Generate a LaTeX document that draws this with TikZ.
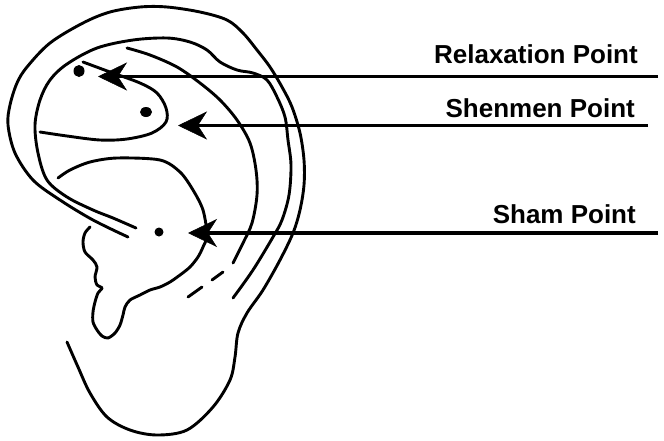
\documentclass[tikz,border=0pt]{standalone}
\usepackage{fontspec}
\setmainfont{Liberation Sans}
\usetikzlibrary{arrows.meta,shapes.geometric}
\begin{document}
\begin{tikzpicture}[x=1pt,y=-1pt,
  earline/.style={line width=2.9pt, line cap=round, line join=round},
  pointer/.style={line width=3.6pt, -{Stealth[length=29pt,width=28pt,inset=9pt,line width=0.5pt]}},
  lbl/.style={font=\fontsize{26}{31}\selectfont\bfseries, inner sep=0pt, anchor=base east},
  acudot/.style={fill=black, draw=none, ellipse, inner sep=0pt}]
\useasboundingbox (0,0) rectangle (664,440);
\fill[white] (0,0) rectangle (664,440);

% outer helix and lobe
\draw[earline] plot[smooth, tension=0.55] coordinates {(128,237) (93,220) (60,200) (33,180) (15,153) (8,125) (10,105) (17,83) (27,67) (50,43) (83,23) (110,12) (140,7) (167,7) (200,12) (227,20) (243,33) (257,50) (270,67) (282,87) (292,107) (300,133) (304,160) (304,185) (300,210) (293,233) (280,260) (263,290) (247,313) (238,333) (235,357) (230,380) (213,407) (187,430) (157,435) (130,430) (107,417) (90,393) (78,367) (67,342)};

% inner helix
\draw[earline] plot[smooth, tension=0.55] coordinates {(136,228) (113,218) (93,210) (67,197) (47,180) (38,153) (35,125) (40,100) (50,80) (67,64) (97,48) (133,40) (167,38) (190,42) (207,50) (220,62) (237,70) (253,73) (267,80) (277,97) (285,117) (288,140) (291,165) (289,195) (282,220) (273,237) (253,270) (233,298)};

% antihelix line
\draw[earline] plot[smooth, tension=0.55] coordinates {(127,48) (150,55) (177,67) (200,83) (220,100) (237,120) (250,143) (256,170) (257,195) (252,223) (243,243) (233,263)};

% triangular fossa
\draw[earline] plot[smooth, tension=0.55] coordinates {(83,62) (110,72) (140,83) (157,93) (166,108) (166,122) (152,133) (127,139) (100,140) (67,136) (40,132)};

% concha, tragus
\draw[earline] plot[smooth, tension=0.5] coordinates {(58,178) (70,170) (90,162) (117,158) (160,160) (180,172) (193,190) (203,210) (207,235) (203,247) (198,257) (190,267) (180,275) (170,282) (160,287) (150,290) (140,295) (130,300) (125,307) (123,315) (120,325) (115,333) (108,338) (102,336) (97,330) (93,322) (93,312) (95,302) (98,293) (102,288) (97,285) (95,277) (97,267) (93,260) (85,252) (83,242) (85,233) (90,227)};

% dashes
\draw[earline] (223,272) -- (212,280);
\draw[earline] (202,287) -- (188,297);

% points
\node[acudot, minimum width=11pt, minimum height=12pt] (relaxdot) at (79,71) {};
\node[acudot, minimum width=12pt, minimum height=10pt] (shendot) at (146,112) {};
\node[acudot, minimum width=9pt, minimum height=9pt] (shamdot) at (159,232) {};

% labels
\node[lbl] (relax) at (638,63) {Relaxation Point};
\node[lbl] (shen) at (635,117) {Shenmen Point};
\node[lbl] (sham) at (636,223) {Sham Point};

% arrows
\coordinate (relaxS) at (658,76.5);
\coordinate (relaxT) at (98,76.5);
\coordinate (shenS) at (648,125.5);
\coordinate (shenT) at (178,125.5);
\coordinate (shamS) at (658,233);
\coordinate (shamT) at (188,233);
\draw[pointer] (relaxS) -- (relaxT);
\draw[pointer] (shenS) -- (shenT);
\draw[pointer] (shamS) -- (shamT);
\end{tikzpicture}
\end{document}
